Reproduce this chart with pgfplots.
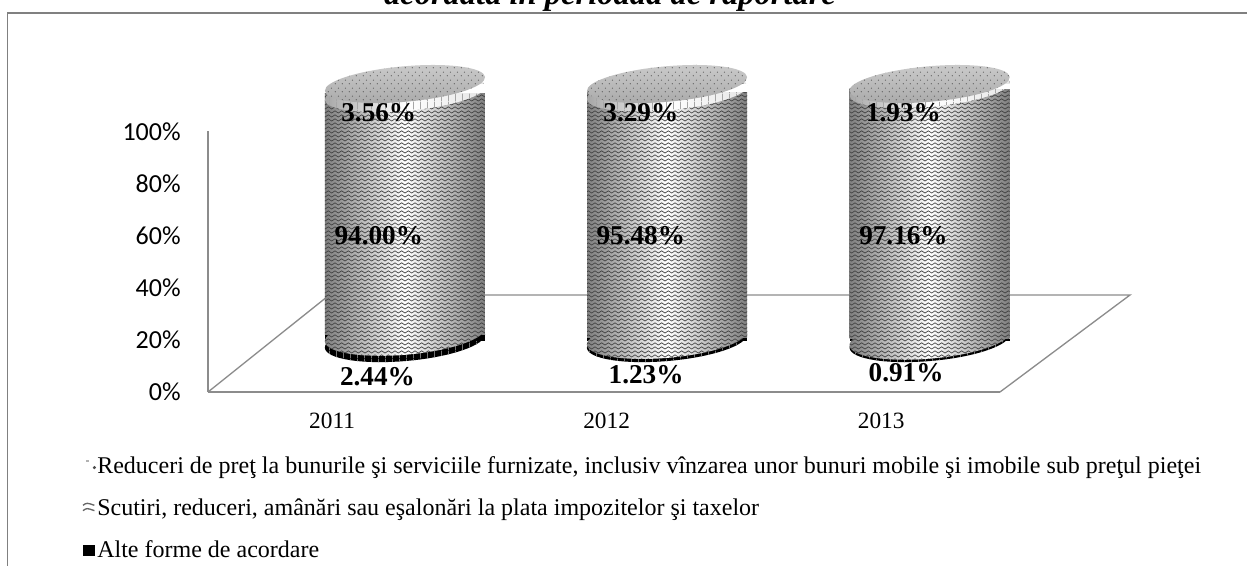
\documentclass[border=0pt]{standalone}
\usepackage{pgfplots}
\pgfplotsset{compat=1.18}
\usepackage{fontspec}
\setmainfont{Liberation Serif}
\newfontfamily\tickfont{Carlito}
\usetikzlibrary{patterns}
\pgfdeclarepatternformonly{wave}{\pgfqpoint{-1pt}{-1pt}}{\pgfqpoint{7pt}{4pt}}{\pgfqpoint{5pt}{3pt}}{
  \pgfsetlinewidth{0.5pt}
  \pgfpathmoveto{\pgfqpoint{0pt}{0.8pt}}
  \pgfpathcurveto{\pgfqpoint{0.8pt}{1.9pt}}{\pgfqpoint{1.7pt}{1.9pt}}{\pgfqpoint{2.5pt}{0.8pt}}
  \pgfpathcurveto{\pgfqpoint{3.3pt}{-0.3pt}}{\pgfqpoint{4.2pt}{-0.3pt}}{\pgfqpoint{5pt}{0.8pt}}
  \pgfusepath{stroke}}
\pgfdeclarepatternformonly{cdots}{\pgfqpoint{0pt}{0pt}}{\pgfqpoint{5pt}{6pt}}{\pgfqpoint{5pt}{6pt}}{
  \pgfpathcircle{\pgfqpoint{1pt}{1pt}}{0.45pt}
  \pgfpathcircle{\pgfqpoint{3.5pt}{4pt}}{0.45pt}
  \pgfusepath{fill}}
\pgfdeclarepatternformonly{vticks}{\pgfqpoint{0pt}{0pt}}{\pgfqpoint{5pt}{6pt}}{\pgfqpoint{5pt}{6pt}}{
  \pgfsetlinewidth{0.7pt}
  \pgfpathmoveto{\pgfqpoint{2pt}{0pt}}
  \pgfpathlineto{\pgfqpoint{2pt}{6pt}}
  \pgfusepath{stroke}}
\tikzset{
  midshade/.style={left color=black!50,right color=black!50,middle color=white},
  midfill/.style={midshade,postaction={pattern=wave,pattern color=black!75}},
  ringfill/.style={left color=black!35,right color=black!10,middle color=white,postaction={pattern=vticks,pattern color=black!35}},
  topfill/.style={top color=black!20,bottom color=black!34,postaction={pattern=cdots,pattern color=black!70}},
  darkfill/.style={fill=black,postaction={pattern=vticks,pattern color=black!55}},
  lab/.style={font=\bfseries\fontsize{20.4}{20.4}\selectfont,inner sep=0pt},
}
\newcommand{\cyl}[4]{\path[#4] (axis cs:#1,#2) ellipse [x radius=60.3pt,y radius=#3,rotate=5];}
% one axis per cylinder: year, left edge, three stacked values, cumulated base of the top part, label offsets
\newcommand{\cylinder}[8]{%
\begin{axis}[
  at={(#2,168pt)},anchor=south west,
  scale only axis,width=196.5pt,height=192.75pt,
  xmin=#1-0.5,xmax=#1+0.5,ymin=0,ymax=100,
  hide axis,clip=false,
  ybar stacked,stack negative=on previous,reverse stacked plots=false,bar width=120pt,
]
\cyl{#1}{0}{15pt}{darkfill}
\addplot[fill=black,draw=none] coordinates {(#1,#3)};
\cyl{#1}{#3}{15pt}{midfill}
\addplot[midshade,draw=none] coordinates {(#1,#4)};
\addplot[draw=none,fill=none] coordinates {(#1,-#4)};
\addplot[pattern=wave,pattern color=black!75,draw=none] coordinates {(#1,#4)};
\cyl{#1}{#6}{13.3pt}{ringfill}
\addplot[fill=white,draw=none] coordinates {(#1,#5)};
\cyl{#1}{100}{13.3pt}{topfill}
\node[lab] at (axis cs:#1-0.1,89) {#5\%};
\node[lab] at (axis cs:#1-0.1,41) {#4\%};
\node[lab] at (axis cs:#1+#7,#8) {#3\%};
\end{axis}}
\begin{document}
\begin{tikzpicture}
\useasboundingbox (0,0) rectangle (935.25pt,423.75pt);
% frame (open at the foot and at the right of the page)
\draw[black!50,line width=1.1pt] (5.8pt,-2pt) -- (5.8pt,414pt) -- (937pt,414pt);
% title cut off by the page top
\node[anchor=base,font=\bfseries\itshape\fontsize{24.4}{24.4}\selectfont] at (457.5pt,420pt) {acordată în perioada de raportare};
% floor
\draw[black!45,line width=1pt] (156pt,129.75pt) -- (247pt,202.5pt) -- (847.5pt,202.5pt) -- (750pt,129.75pt);
\begin{axis}[
  at={(156pt,129.75pt)},anchor=south west,
  scale only axis,width=594pt,height=195.4pt,
  xmin=0,xmax=3,ymin=0,ymax=100,
  axis x line=bottom,axis y line=left,
  axis line style={black!45,line width=1pt,-},
  xtick={0.47,1.51,2.55},xticklabels={2011,2012,2013},
  ytick={0,20,40,60,80,100},
  yticklabel={\pgfmathprintnumber{\tick}\%},
  yticklabel style={font=\tickfont\fontsize{19.5}{19.5}\selectfont,xshift=-17pt},
  xticklabel style={font=\fontsize{17.5}{17.5}\selectfont,yshift=-12pt},
  /pgf/number format/assume math mode=true,
  major tick length=0pt,
  legend style={at={(-0.159,-0.24)},anchor=north west,draw=none,fill=none,
    font=\fontsize{18}{18}\selectfont,row sep=15.7pt,inner sep=0pt,nodes={inner sep=1pt}},
  legend cell align=left,
]
\addlegendimage{legend image code/.code={\fill[black!70] (0.6cm,-1.5pt) circle (1pt);\fill[black!30] (0.38cm,3pt) rectangle +(1.5pt,1pt);}}
\addlegendimage{legend image code/.code={\draw[black!60,line width=1pt] (0.3cm,2pt) .. controls (0.4cm,4pt) .. (0.6cm,2pt);\draw[black!60,line width=1pt] (0.3cm,-2pt) .. controls (0.4cm,0pt) .. (0.6cm,-2pt);}}
\addlegendimage{legend image code/.code={\fill[black] (0.3cm,-4pt) rectangle (0.6cm,4pt);}}
\legend{{Reduceri de preţ la bunurile şi serviciile furnizate, inclusiv vînzarea unor bunuri mobile şi imobile sub preţul pieţei},{Scutiri, reduceri, amânări sau eşalonări la plata impozitelor şi taxelor},{Alte forme de acordare}}
\end{axis}
\cylinder{2011}{205.5pt}{2.44}{94.00}{3.56}{96.44}{-0.105}{-14}
\cylinder{2012}{402pt}{1.23}{95.48}{3.29}{96.71}{-0.08}{-13}
\cylinder{2013}{599pt}{0.91}{97.16}{1.93}{98.07}{-0.09}{-12.4}
\end{tikzpicture}
\end{document}
